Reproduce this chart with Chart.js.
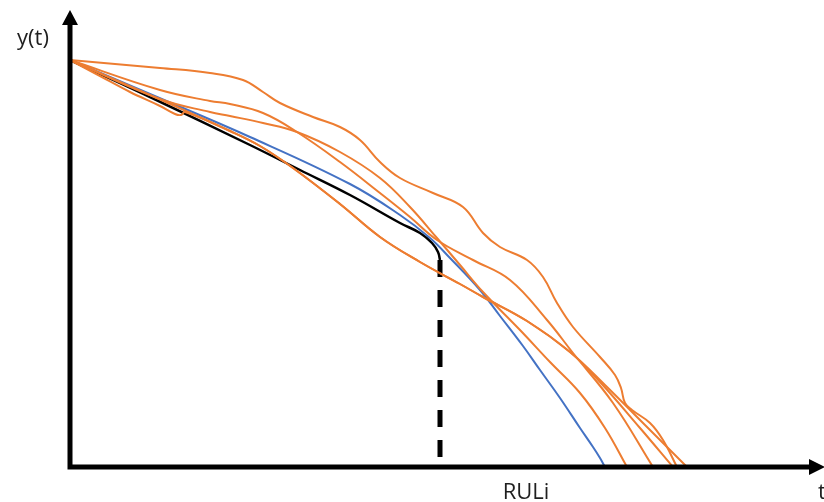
<!DOCTYPE html>
<html lang="en">
<head>
<meta charset="UTF-8">
<title>RUL curves</title>
<script src="https://cdn.jsdelivr.net/npm/chart.js@4.4.1/dist/chart.umd.min.js"></script>
<style>
  body { margin: 0; background: #fff; }
  #wrap { width: 824px; height: 502px; }
</style>
</head>
<body>
<div id="wrap"><canvas id="rulChart"></canvas></div>

<script>
// values: t along x, y(t) along y (arbitrary units)
const blackT = [0, 8, 18, 23, 28, 33, 35, 36.2, 36.8, 37];
const blackY = [40.7, 37.0, 32.2, 29.7, 27.2, 24.4, 23.4, 22.4, 21.5, 20.7];

const blueT = [0, 8, 18, 28, 33, 36, 38, 41, 43, 45.3, 47, 49, 51, 52.3, 53, 53.5];
const blueY = [40.7, 37.3, 33.0, 28.3, 25.2, 22.9, 20.9, 17.7, 15.1, 12.1, 9.7, 6.9, 3.9, 2.0, 0.9, 0];

const run1T = [0, 9, 14, 17.3, 19.3, 21, 24.3, 27, 29, 31, 33, 36.3, 39.3, 41.3, 43, 45.7, 47.3, 48.7, 50.3, 53, 54.5, 55.1, 55.5, 56.2, 58, 59.3, 60.7];
const run1Y = [40.7, 39.9, 39.4, 38.7, 37.5, 36.4, 35.0, 34.0, 32.7, 30.5, 28.9, 27.4, 26.0, 23.4, 22.0, 20.7, 19.0, 16.4, 14.0, 11.0, 9.2, 7.9, 6.4, 5.7, 4.4, 2.7, 0];

const run2T = [0, 9, 14, 16, 19.3, 22.7, 27, 31, 34, 36.7, 40.3, 44, 47.7, 50.3, 54.3, 58.3];
const run2Y = [40.7, 37.7, 36.6, 36.3, 35.4, 33.5, 30.5, 27.4, 25.0, 22.7, 20.7, 18.7, 14.7, 11.4, 6.4, 0];

const run3T = [0, 9, 14, 16, 19.3, 22.7, 27, 31, 34, 36.7, 39, 41.3, 45, 48, 51, 53.5, 55.7];
const run3Y = [40.7, 36.8, 35.5, 35.1, 34.4, 33.5, 31.5, 28.9, 26.0, 22.9, 20.2, 17.5, 13.7, 10.5, 7.4, 3.9, 0];

const run4T = [0, 3, 6, 9, 10.5, 11.1, 11.5, 16, 19, 22.3, 27, 31, 35, 39, 41.3, 45.7, 50, 53.5, 57.5, 59.8, 61.7];
const run4Y = [40.7, 39.1, 37.5, 36.1, 35.3, 35.2, 35.5, 33.6, 32.1, 29.9, 26.3, 23.0, 20.5, 18.3, 17.0, 14.6, 11.5, 8.2, 4.2, 1.9, 0];

const run5T = [0, 8, 16, 19, 22.3, 27, 31, 35, 39, 41.3, 45.7, 50, 53, 57, 60.3];
const run5Y = [40.7, 37.2, 33.6, 32.1, 29.9, 26.3, 23.0, 20.5, 18.3, 17.0, 14.6, 11.5, 8.5, 3.9, 0];

const rulT = 37;
const rulY = [20.7, 0];

const tMax = 75;
const yMax = 45.5;

function pts(ts, ys) {
    return ts.map((t, i) => ({ x: t, y: ys[i] }));
}

const orange = '#ED7D31';
const runs = [[run1T, run1Y], [run2T, run2Y], [run3T, run3Y], [run4T, run4Y], [run5T, run5Y]];

const datasets = runs.map(r => ({
    data: pts(r[0], r[1]),
    borderColor: orange,
    borderWidth: 2,
    tension: 0.4
}));
datasets.push({ data: pts(blueT, blueY), borderColor: '#4472C4', borderWidth: 2, tension: 0.4 });
datasets.push({ data: pts(blackT, blackY), borderColor: '#000', borderWidth: 2.5, tension: 0.4 });
datasets.push({
    data: rulY.map(y => ({ x: rulT, y: y })),
    borderColor: '#000',
    borderWidth: 5,
    borderDash: [17, 13],
    borderCapStyle: 'butt',
    tension: 0
});

// axes with arrow heads and the three labels
const axesPlugin = {
    id: 'axesPlugin',
    afterDatasetsDraw(chart) {
        const ctx = chart.ctx;
        const x = chart.scales.x, y = chart.scales.y;
        const x0 = x.getPixelForValue(0), y0 = y.getPixelForValue(0);
        const yTop = y.getPixelForValue(yMax);
        ctx.save();
        ctx.strokeStyle = '#000';
        ctx.fillStyle = '#000';
        ctx.lineWidth = 5;
        ctx.beginPath();
        ctx.moveTo(x0, y0 + 2.5);
        ctx.lineTo(x0, yTop + 12);
        ctx.moveTo(x0 - 2.5, y0);
        ctx.lineTo(chart.width - 14, y0);
        ctx.stroke();
        // arrow heads
        ctx.beginPath();
        ctx.moveTo(x0, yTop - 2);
        ctx.lineTo(x0 - 8, yTop + 13);
        ctx.lineTo(x0 + 8, yTop + 13);
        ctx.closePath();
        ctx.fill();
        ctx.beginPath();
        ctx.moveTo(chart.width + 1, y0);
        ctx.lineTo(chart.width - 15, y0 - 8);
        ctx.lineTo(chart.width - 15, y0 + 8);
        ctx.closePath();
        ctx.fill();

        ctx.fillStyle = '#1f1f1f';
        ctx.font = '22px "Open Sans"';
        ctx.textBaseline = 'alphabetic';
        ctx.textAlign = 'center';
        ctx.fillText('y(t)', 33, 45);
        ctx.fillText('RULi', x.getPixelForValue(rulT) + 86, 499);
        ctx.textAlign = 'left';
        ctx.fillText('t', chart.width - 6, 499);
        ctx.restore();
    }
};

new Chart(document.getElementById('rulChart'), {
    type: 'line',
    data: { datasets: datasets },
    options: {
        responsive: true,
        maintainAspectRatio: false,
        animation: false,
        layout: { padding: { left: 70, right: 4, top: 12, bottom: 35 } },
        elements: { point: { radius: 0 } },
        plugins: { legend: { display: false }, tooltip: { enabled: false } },
        scales: {
            x: { type: 'linear', min: 0, max: tMax, display: false },
            y: { type: 'linear', min: 0, max: yMax, display: false }
        }
    },
    plugins: [axesPlugin]
});
</script>
</body>
</html>
